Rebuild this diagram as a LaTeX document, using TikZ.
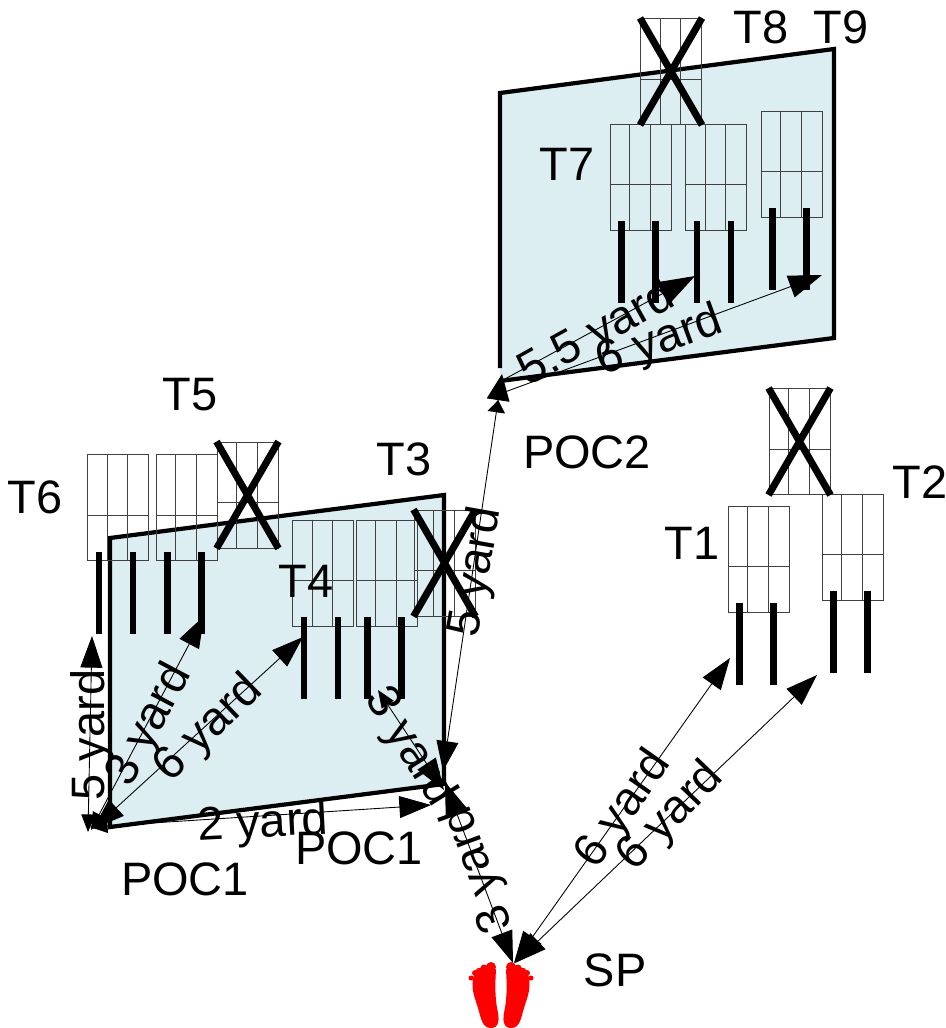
\documentclass[tikz,border=0pt]{standalone}
\usepackage{fontspec}
\setmainfont{Liberation Sans}
\definecolor{panelblue}{RGB}{220, 238, 241}
\definecolor{tilegray}{RGB}{65, 65, 65}
\usetikzlibrary{arrows.meta, calc}

\begin{document}
\begin{tikzpicture}[
  x=0.02cm, y=-0.02cm,
  panel/.style={draw=black, fill=panelblue, line width=2.4pt, line join=miter},
  tile/.style={draw=tilegray, line width=0.55pt, minimum width=1.22cm, minimum height=2.12cm, inner sep=0pt},
  tilegrid/.style={tilegray, line width=0.55pt},
  leg/.style={line width=3.5pt},
  crossout/.style={line width=4pt},
  arrow/.style={{Triangle[length=18pt, width=12.5pt]}-{Triangle[length=18pt, width=12.5pt]}, line width=0.5pt},
  smallarrow/.style={{Triangle[length=10pt, width=8pt]}-{Triangle[length=18pt, width=12.5pt]}, line width=0.5pt},
  oneway/.style={-{Triangle[length=19pt, width=13pt]}, line width=0.5pt},
  lbl/.style={font=\fontsize{26.7}{30}\selectfont, inner sep=0pt},
]
  \useasboundingbox (0,0) rectangle (946,1028);

  % Panels
  \draw[panel] (110,827) -- (110,538) -- (444,495) -- (444,784) -- cycle;
  \draw[panel] (500,368) -- (500,93) -- (834,49) -- (834,338) -- (500,381);

  % Tiles
  \node[tile] (t6a) at (118,507.5) {};
  \node[tile] (t6b) at (186.5,507.5) {};
  \node[tile] (t5x) at (247.5,495) {};
  \node[tile] (t4a) at (323,573) {};
  \node[tile] (t4b) at (386.5,573) {};
  \node[tile] (t3x) at (444.5,563) {};
  \node[tile] (t8x) at (671,71.5) {};
  \node[tile] (t7a) at (640.5,177) {};
  \node[tile] (t7b) at (716,177) {};
  \node[tile] (t9a) at (791.5,164) {};
  \node[tile] (t1a) at (758.5,559) {};
  \node[tile] (t2a) at (852.5,547) {};
  \node[tile] (t2x) at (799.5,441.5) {};

  % Grid lines
  \foreach \t in {t6a,t6b,t5x,t4a,t4b,t3x,t8x,t7a,t7b,t9a,t1a,t2a,t2x}
    \draw[tilegrid] (\t.north west) +(20.3,0) -- +(20.3,106) +(40.7,0) -- +(40.7,106) +(0,61) -- +(61,61);

  % Legs
  \foreach \t in {t6a,t6b,t4a,t4b,t7a,t7b,t9a,t1a,t2a}
    \draw[leg] (\t.south west) +(12,-9) -- +(12,73) +(46,-9) -- +(46,73);

  % Crosses
  \foreach \t in {t5x,t3x,t8x,t2x}
    \draw[crossout] (\t.north west) -- (\t.south east) (\t.north east) -- (\t.south west);

  % Feet
  \foreach \m in {1,-1}
    \fill[red, shift={(501,0)}, xscale=\m] (-5,970) .. controls (-6,985) and (-6,995) .. (-4,1008) .. controls (-1,1020) and (-2,1028) .. (-10,1028) .. controls (-19,1028) and (-20,1018) .. (-23,1008) .. controls (-26,998) and (-30,990) .. (-28,978) .. controls (-26,966) and (-8,960) .. (-5,970) -- cycle
      (-30,978) circle[radius=2.5] (-26,973) circle[radius=3] (-22,971) circle[radius=3.2] (-17,968) circle[radius=3.5] (-10,967) circle[radius=5];

  % Arrow ends
  \coordinate (spa) at (513,963);
  \coordinate (spb) at (514,963);
  \coordinate (spc) at (515,963);
  \coordinate (pocx) at (445,782);
  \coordinate (pocy) at (444,790);
  \coordinate (pocz) at (443,771);
  \coordinate (pocl) at (88,832);
  \coordinate (pocm) at (91,830);
  \coordinate (pocn) at (93,829);
  \coordinate (poco) at (90,827);
  \coordinate (toa) at (730,658);
  \coordinate (tob) at (817,675);
  \coordinate (toc) at (92,636);
  \coordinate (tod) at (204,616);
  \coordinate (toe) at (303,637);
  \coordinate (tof) at (431,805);
  \coordinate (tog) at (378,690);
  \coordinate (toh) at (502,374);
  \coordinate (poca) at (503,380);
  \coordinate (pocb) at (505,392);
  \coordinate (toi) at (695,276);
  \coordinate (toj) at (822,275);

  % Arrows
  \draw[arrow] (spa) -- (pocx);
  \draw[arrow] (spb) -- (toa);
  \draw[arrow] (spc) -- (tob);
  \draw[smallarrow] (pocl) -- (toc);
  \draw[smallarrow] (pocm) -- (tod);
  \draw[arrow] (pocn) -- (toe);
  \draw[smallarrow] (poco) -- (tof);
  \draw[smallarrow] (tog) -- (pocy);
  \draw[{Triangle[length=17pt, width=12.5pt]}-{Triangle[length=7pt, width=10pt]Triangle[length=15pt, width=13pt]}, line width=0.5pt] (pocz) -- (toh);
  \draw[oneway] (poca) -- (toi);
  \draw[oneway] (pocb) -- (toj);

  % Distance labels
  \node[lbl, rotate=90] (da) at (92,735) {5 yard};
  \node[lbl, rotate=62] (db) at (150,725) {3 yard};
  \node[lbl, rotate=44] (dc) at (209,729) {6 yard};
  \node[lbl, rotate=3] (dd) at (263,825) {2 yard};
  \node[lbl, rotate=-58] (de) at (409,747) {3 yard};
  \node[lbl, rotate=110] (df) at (479,869) {3 yard};
  \node[lbl, rotate=80] (dg) at (477,572) {5 yard};
  \node[lbl, rotate=55] (dh) at (624,810) {6 yard};
  \node[lbl, rotate=46] (di) at (671,817) {6 yard};
  \node[lbl, rotate=29] (dj) at (597,335) {5.5 yard};
  \node[lbl, rotate=20] (dk) at (660,342) {6 yard};

  % Names
  \node[lbl] (t8) at (761,27) {T8};
  \node[lbl] (t9) at (841,27) {T9};
  \node[lbl] (t7) at (567,164) {T7};
  \node[lbl] (t5) at (190,395) {T5};
  \node[lbl] (t6) at (35,497) {T6};
  \node[lbl] (t3) at (404,459) {T3};
  \node[lbl] (t4) at (306,581) {T4};
  \node[lbl] (t1) at (692,543) {T1};
  \node[lbl] (t2) at (920,482) {T2};
  \node[lbl] (pocone) at (185,879) {POC1};
  \node[lbl] (poctwo) at (359,848) {POC1};
  \node[lbl] (pocthree) at (587,452) {POC2};
  \node[lbl] (sp) at (615,970) {SP};
\end{tikzpicture}
\end{document}
